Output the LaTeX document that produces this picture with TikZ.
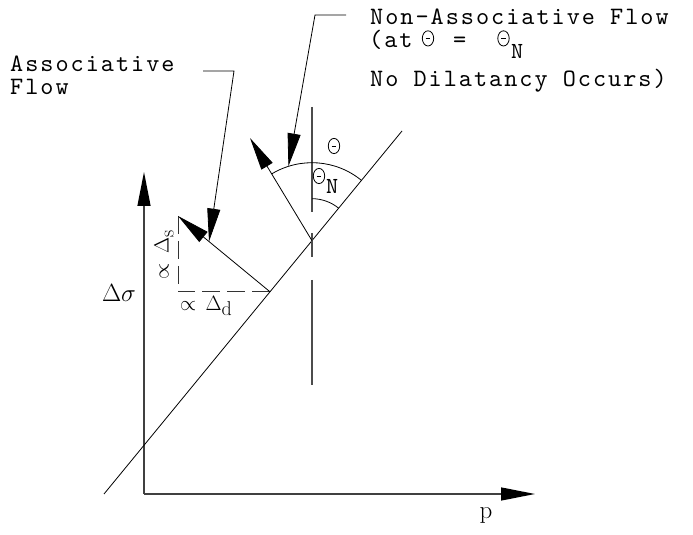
\documentclass[tikz,border=0pt]{standalone}
\usepackage{fontspec}
\newfontfamily\lmono{lmmono10-regular.otf}[LetterSpace=8]
\usetikzlibrary{arrows.meta,calc}
\newcommand\thg{\tikz[baseline=0pt]{\draw[line width=0.8pt] (0pt,7.6pt) ellipse [x radius=5.7pt,y radius=7.6pt]; \draw[line width=0.9pt] (-2.3pt,7.6pt)--(2.3pt,7.6pt);}}
\begin{document}
\begin{tikzpicture}[x=1pt,y=1pt,
  ln/.style={line width=0.8pt},
  axisline/.style={line width=1.3pt, draw=black!75, -{Triangle[length=34pt,width=13pt,color=black]}},
  flow/.style={line width=0.8pt, -{Triangle[length=33pt,width=13pt]}},
  dsh/.style={line width=0.9pt, draw=black!80, dash pattern=on 18pt off 7pt},
  cline/.style={line width=1.2pt, draw=black!70, dash pattern=on 105pt off 21pt on 24pt off 23pt},
  txt/.style={font=\lmono\fontsize{25}{29}\selectfont, inner sep=0pt, anchor=base west},
  sym/.style={inner sep=0pt},
  mth/.style={inner sep=0pt}
]
\useasboundingbox (0,0) rectangle (693,535);
% coordinates
\coordinate (O) at (144,41);
\coordinate (Vtip) at (144,363);
\coordinate (Htip) at (535,41);
\coordinate (L0) at (104,41);
\coordinate (L1) at (402,404);
\coordinate (A) at (270,243.2);
\coordinate (Atip) at (178,319);
\coordinate (C) at (178,243.2);
\coordinate (B) at (312,294.3);
\coordinate (Btip) at (250,397);
\coordinate (CLt) at (312,428);
\coordinate (CLb) at (312,150);
\coordinate (h1) at (203,464);
\coordinate (h2) at (234,464);
\coordinate (T1) at ($(A)!0.663!(Atip)$);
\coordinate (g1) at (346,520);
\coordinate (g2) at (315,520);
\coordinate (T2) at ($(B)+(107.6:78)$);
% axes
\draw[axisline] (O) -- (Vtip);
\draw[axisline] (O) -- (Htip);
% yield line
\draw[ln] (L0) -- (L1);
% center line
\draw[cline] (CLt) -- (CLb);
% associative flow
\draw[dsh] (Atip) -- (C) -- (A);
\draw[flow] (A) -- (Atip);
% non-associative flow
\draw[flow] (B) -- (Btip);
\draw[ln] ($(B)+(121.1:78)$) arc[start angle=121.1, end angle=50.6, radius=78];
\draw[ln] ($(B)+(90:42)$) arc[start angle=90, end angle=50.6, radius=42];
% leaders
\draw[flow] (h1) -- (h2) -- (T1);
\draw[flow] (g1) -- (g2) -- (T2);
% texts
\node[txt] (as1) at (10,463) {Associative};
\node[txt] (as2) at (10,440) {Flow};
\node[txt] (na1) at (370,510) {Non–Associative Flow};
\node[txt] (na2a) at (369,487) {(at};
\node[sym, anchor=base] (na2b) at (428,489) {\thg};
\node[txt] (na2c) at (453,487) {=};
\node[sym, anchor=base] (na2d) at (503.5,489) {\thg};
\node[txt, font=\lmono\fontsize{23}{27}\selectfont] (na2e) at (511,476) {N};
\node[txt] (na3) at (370,448) {No Dilatancy Occurs)};
\node[sym] (th) at (334,389) {\thg};
\node[sym] (thn) at (319,359) {\thg};
\node[txt, font=\lmono\fontsize{23}{27}\selectfont] (thnN) at (326,341) {N};
\node[mth, font=\fontsize{25}{30}\selectfont] (ds) at (119,242) {$\Delta\sigma$};
\node[mth, font=\fontsize{20}{24}\selectfont, rotate=90] (ls) at (164,280) {$\propto\,\Delta$\raisebox{-5pt}{s}};
\node[mth, font=\fontsize{20}{24}\selectfont] (ld) at (206,229) {$\propto\,\Delta$\raisebox{-5pt}{d}};
\node[mth, font=\fontsize{25}{30}\selectfont] (p) at (486,20) {p};
\end{tikzpicture}
\end{document}
